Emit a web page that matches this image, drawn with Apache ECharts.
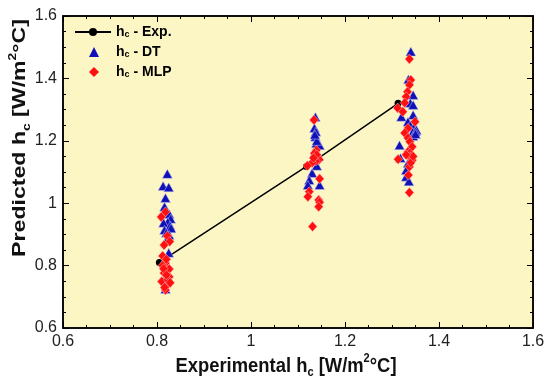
<!DOCTYPE html>
<html><head><meta charset="utf-8">
<script src="https://cdn.jsdelivr.net/npm/echarts@6/dist/echarts.min.js"></script>
<style>html,body{margin:0;padding:0;background:#fff}#c{width:550px;height:384px}</style>
</head><body><div id="c"></div>
<script>
var expData = [[0.805,0.81],[1.118,1.118],[1.313,1.32]];
var dtData = [
[0.822,1.094],[0.813,1.055],[0.825,1.051],[0.818,1.017],[0.816,0.989],[0.826,0.965],[0.829,0.95],[0.823,0.94],[0.814,0.937],[0.828,0.928],[0.816,0.914],[0.83,0.92],[0.82,0.905],[0.826,0.898],[0.822,0.885],[0.825,0.841],[0.818,0.76],[0.818,0.725],[0.814,0.81],
[1.137,1.276],[1.135,1.241],[1.138,1.229],[1.137,1.213],[1.139,1.192],[1.146,1.186],[1.14,1.2],[1.136,1.22],[1.13,1.097],[1.124,1.074],[1.121,1.058],[1.146,1.058],[1.14,1.12],[1.144,1.15],[1.135,1.16],
[1.34,1.486],[1.335,1.397],[1.345,1.347],[1.339,1.321],[1.345,1.315],[1.32,1.277],[1.345,1.283],[1.334,1.261],[1.339,1.25],[1.347,1.245],[1.352,1.235],[1.344,1.228],[1.35,1.23],[1.316,1.186],[1.318,1.145],[1.334,1.128],[1.33,1.106],[1.33,1.085],[1.336,1.07],[1.345,1.215],[1.35,1.222]
];
var mlpData = [
[0.818,0.972],[0.809,0.956],[0.822,0.895],[0.827,0.877],[0.815,0.866],[0.812,0.831],[0.818,0.808],[0.826,0.789],[0.815,0.776],[0.826,0.764],[0.81,0.749],[0.822,0.738],[0.818,0.722],[0.812,0.8],[0.82,0.82],[0.823,0.755],[0.814,0.79],[0.828,0.745],[0.816,0.73],[0.82,0.77],
[1.134,1.267],[1.139,1.17],[1.135,1.16],[1.142,1.15],[1.145,1.14],[1.138,1.135],[1.13,1.13],[1.12,1.12],[1.146,1.078],[1.124,1.037],[1.121,1.021],[1.144,1.01],[1.146,1.003],[1.144,0.989],[1.131,0.925],[1.14,1.155],[1.133,1.145],
[1.337,1.462],[1.34,1.395],[1.337,1.379],[1.333,1.357],[1.33,1.341],[1.327,1.322],[1.312,1.305],[1.323,1.293],[1.349,1.261],[1.334,1.24],[1.327,1.225],[1.334,1.209],[1.338,1.197],[1.343,1.181],[1.334,1.165],[1.338,1.16],[1.338,1.149],[1.343,1.138],[1.313,1.141],[1.337,1.117],[1.335,1.09],[1.337,1.034],[1.34,1.13],[1.345,1.15],[1.33,1.155]
];
var seriesNames = ['Exp.', 'DT', 'MLP'];
var axisMin = 0.6, axisMax = 1.6, axisStep = 0.2;
var xTitle = ['Experimental h', 'c', ' [W/m', '2', '°C]'];
var yTitle = ['Predicted h', 'c', ' [W/m', '2', '°C]'];

var FONT = 'Liberation Sans, Arial, sans-serif';
function titleRich(fs){
  var sf = Math.round(fs*0.62);
  return {
    t:{fontSize:fs,fontWeight:'bold',fontFamily:FONT,fill:'#111',lineHeight:fs+6},
    s:{fontSize:sf,fontWeight:'bold',fontFamily:FONT,fill:'#111',lineHeight:fs+6,verticalAlign:'bottom'},
    p:{fontSize:sf,fontWeight:'bold',fontFamily:FONT,fill:'#111',lineHeight:sf,verticalAlign:'top'}
  };
}
function titleStr(a){ return '{t|'+a[0]+'}{s|'+a[1]+'}{t|'+a[2]+'}{p|'+a[3]+'}{t|'+a[4]+'}'; }

function mkAxis(pos, showLabel){
  return {
    type:'value', min:axisMin, max:axisMax, interval:axisStep, position:pos,
    axisLine:{show:true,onZero:false,lineStyle:{color:'#000',width:1.5}},
    axisTick:{show:true,inside:true,length:6,lineStyle:{color:'#000',width:1}},
    minorTick:{show:true,splitNumber:4,length:3,lineStyle:{color:'#000',width:1}},
    splitLine:{show:false},
    axisLabel:{show:showLabel,fontSize:16,fontFamily:FONT,color:'#222',margin:6,
      formatter:function(v){return String(Math.round(v*10)/10);}}
  };
}
var legendText = {rich:{
  b:{fontSize:14,fontWeight:'bold',fontFamily:FONT,color:'#000',lineHeight:14},
  s:{fontSize:9,fontWeight:'bold',fontFamily:FONT,color:'#000',lineHeight:14,verticalAlign:'bottom'}
}};
function legendFmt(n){return '{b|h}{s|c}{b| - '+n+'}';}

var chart = echarts.init(document.getElementById('c'), null, {renderer:'canvas'});
chart.setOption({
  backgroundColor:'#fff',
  animation:false,
  grid:{left:63,right:17,top:16,bottom:56,show:true,backgroundColor:'#fcf6c4',borderColor:'#000',borderWidth:1.5},
  xAxis:[ mkAxis('bottom', true), mkAxis('top', false) ],
  yAxis:[ mkAxis('left', true), mkAxis('right', false) ],
  graphic:[
    {type:'text', x:286, y:366, scaleX:0.92, z:10,
      style:{text:titleStr(xTitle), rich:titleRich(20), align:'center', verticalAlign:'middle',
        fontSize:20, fontWeight:'bold', fontFamily:FONT, fill:'#111'}},
    {type:'text', x:20, y:138, rotation:Math.PI/2, scaleX:1.25, z:10,
      style:{text:titleStr(yTitle), rich:titleRich(18.5), align:'center', verticalAlign:'middle',
        fontSize:18.5, fontWeight:'bold', fontFamily:FONT, fill:'#111'}}
  ],
  legend:[
    {orient:'vertical', left:69, top:20, itemWidth:36, itemHeight:10,
      data:[{name:seriesNames[0]}], formatter:legendFmt, textStyle:legendText},
    {orient:'vertical', left:84, top:40, itemGap:6, itemWidth:10, itemHeight:10,
      itemStyle:{borderWidth:0},
      data:[{name:seriesNames[1], icon:'triangle'},{name:seriesNames[2], icon:'diamond'}],
      formatter:legendFmt,
      textStyle:{padding:[0,0,0,12], rich:legendText.rich}}
  ],
  series:[
    {name:seriesNames[0],type:'line',data:expData,symbol:'circle',symbolSize:7,z:1,
      lineStyle:{color:'#000',width:1.5},itemStyle:{color:'#000'}},
    {name:seriesNames[1],type:'scatter',data:dtData,symbol:'triangle',symbolSize:[10,9],z:2,
      itemStyle:{color:'#1010b8',borderColor:'#c8c8f0',borderWidth:0.5,opacity:1}},
    {name:seriesNames[2],type:'scatter',data:mlpData,symbol:'diamond',symbolSize:[9,10],z:3,
      itemStyle:{color:'#ff1010',borderColor:'#ffc0c0',borderWidth:0.5,opacity:1}}
  ]
});
</script></body></html>
